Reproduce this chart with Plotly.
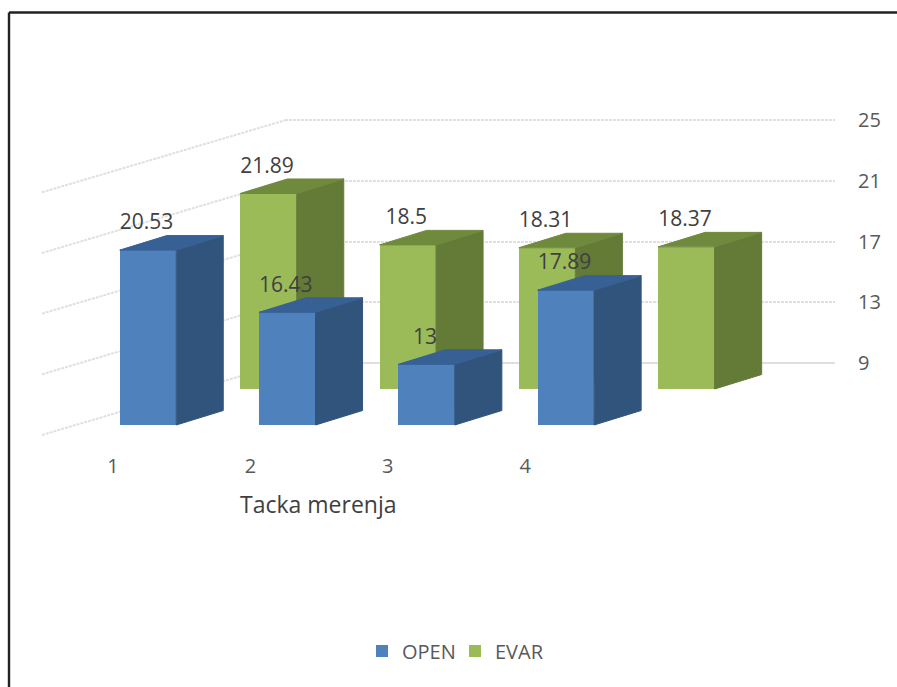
import plotly.graph_objects as go

W, H = 897, 687

# Data
points = [1, 2, 3, 4]
open_values = [20.53, 16.43, 13, 17.89]
evar_values = [21.89, 18.5, 18.31, 18.37]
axis_ticks = [9, 13, 17, 21, 25]
open_name, evar_name = "OPEN", "EVAR"
x_title = "Tacka merenja"

# Style
OPEN_FRONT, OPEN_SIDE, OPEN_TOP = "#4f81bd", "#31547c", "#376095"
EVAR_FRONT, EVAR_SIDE, EVAR_TOP = "#9bbb59", "#647a37", "#6f8a3d"
GRID = "#e0e0e0"
TEXT = "#404040"
TICK = "#595959"
FONT = "Open Sans"

# Calibration of the pseudo 3D box
PX_PER_UNIT = 15.17
CAT_STEP = 139.3
BAR_W = 56.5
DX, DY = 47, 14.5
BASE = 9


def xr(first_px, step=CAT_STEP):
    return [1 + (0 - first_px) / step, 1 + (W - first_px) / step]


def yr(base_px):
    return [BASE - (H - base_px) / PX_PER_UNIT, BASE + base_px / PX_PER_UNIT]


fig = go.Figure()

# Main subplot: the back wall, carrying the value axis and its gridlines
fig.add_trace(go.Scatter(x=[0], y=[None], xaxis="x", yaxis="y", showlegend=False, hoverinfo="skip"))


def add_series(values, name, front, side, top, xa, ya):
    cw = BAR_W / CAT_STEP
    dx = DX / CAT_STEP
    dy = DY / PX_PER_UNIT
    for c, v in zip(points, values):
        r = c + cw / 2
        l = c - cw / 2
        fig.add_trace(go.Scatter(x=[r, r + dx, r + dx, r, r], y=[BASE, BASE + dy, v + dy, v, BASE],
                                 mode="lines", fill="toself", fillcolor=side, line=dict(color=side, width=1),
                                 xaxis=xa, yaxis=ya, showlegend=False, hoverinfo="skip"))
        fig.add_trace(go.Scatter(x=[l, r, r + dx, l + dx, l], y=[v, v, v + dy, v + dy, v],
                                 mode="lines", fill="toself", fillcolor=top, line=dict(color=top, width=1),
                                 xaxis=xa, yaxis=ya, showlegend=False, hoverinfo="skip"))
    fig.add_trace(go.Bar(x=points, y=[v - BASE for v in values], base=BASE, width=cw, name=name,
                         marker=dict(color=front, line=dict(width=0)), xaxis=xa, yaxis=ya))
    fig.add_trace(go.Scatter(x=[c - 1.5 / CAT_STEP for c in points],
                             y=[v + 26 / PX_PER_UNIT for v in values],
                             text=[str(v) for v in values], mode="text", textposition="middle center",
                             textfont=dict(family=FONT, size=21, color=TEXT),
                             xaxis=xa, yaxis=ya, showlegend=False, hoverinfo="skip"))


add_series(evar_values, evar_name, EVAR_FRONT, EVAR_SIDE, EVAR_TOP, "x2", "y2")
add_series(open_values, open_name, OPEN_FRONT, OPEN_SIDE, OPEN_TOP, "x3", "y3")

# Trace on the category label axis
fig.add_trace(go.Scatter(x=points, y=[None] * len(points), xaxis="x4", yaxis="y3",
                         showlegend=False, hoverinfo="skip"))

# Left wall gridlines plus the solid floor line on the back wall
WALL_L, WALL_C, WALL_R = 42, 285, 835
shapes = [dict(type="line", xref="paper", yref="y", x0=WALL_L / W, x1=WALL_C / W, y0=t - 72 / PX_PER_UNIT, y1=t,
               line=dict(color=GRID, width=2, dash="3px,1px"), layer="below") for t in axis_ticks]
shapes.append(dict(type="line", xref="paper", yref="y", x0=WALL_C / W, x1=WALL_R / W, y0=BASE, y1=BASE,
                   line=dict(color="#d0d0d0", width=1.5), layer="below"))
# Picture frame: only the top and left edges are visible
shapes.append(dict(type="line", xref="paper", yref="paper", x0=9 / W, x1=1, y0=1 - 12.5 / H, y1=1 - 12.5 / H,
                   line=dict(color="#222222", width=2.4), layer="below"))
shapes.append(dict(type="line", xref="paper", yref="paper", x0=9 / W, x1=9 / W, y0=0, y1=1 - 12.5 / H,
                   line=dict(color="#222222", width=2.4), layer="below"))

hidden = dict(visible=False, fixedrange=True)
fig.update_layout(
    width=W, height=H, autosize=False,
    margin=dict(l=0, r=0, t=0, b=0, autoexpand=False),
    plot_bgcolor="rgba(0,0,0,0)", paper_bgcolor="white",
    barmode="overlay", bargap=0,
    font=dict(family=FONT, color=TICK),
    xaxis=dict(range=[0, 1], domain=[WALL_C / W, WALL_R / W], anchor="y", **hidden),
    yaxis=dict(range=yr(363), domain=[0, 1], anchor="x", side="right",
               tickvals=axis_ticks, ticks="outside", ticklen=18, tickcolor="rgba(0,0,0,0)",
               showgrid=True, gridcolor=GRID, gridwidth=2, griddash="3px,1px", zeroline=False, showline=False,
               tickfont=dict(family=FONT, size=20, color=TICK), fixedrange=True),
    xaxis2=dict(range=xr(268.5), domain=[0, 1], anchor="y2", **hidden),
    yaxis2=dict(range=yr(389), domain=[0, 1], anchor="x2", **hidden),
    xaxis3=dict(range=xr(148), domain=[0, 1], anchor="y3", **hidden),
    yaxis3=dict(range=yr(425), domain=[0, 1], anchor="x3", **hidden),
    xaxis4=dict(range=xr(113, 137.4), domain=[0, 1], anchor="free", position=(H - 452) / H,
                side="bottom", tickvals=points, ticktext=[str(p) for p in points], showgrid=False, zeroline=False,
                showline=False, ticks="", tickfont=dict(family=FONT, size=20, color=TICK), fixedrange=True),
    legend=dict(orientation="h", x=362 / W, y=1 - 651 / H, xanchor="left", yanchor="middle",
                font=dict(family=FONT, size=20, color=TICK), traceorder="reversed",
                itemwidth=30, entrywidth=48, entrywidthmode="pixels", bgcolor="rgba(0,0,0,0)"),
    annotations=[dict(text=x_title, xref="paper", yref="paper", x=318.5 / W, y=1 - 504 / H, showarrow=False,
                      xanchor="center", yanchor="middle", font=dict(family=FONT, size=23, color=TEXT))],
    shapes=shapes,
)

# The page's default body margin would shift the picture by 8px
fig.write_html("out.html", config=dict(displayModeBar=False),
               post_script="document.body.style.margin='0';document.body.style.overflow='hidden';")
